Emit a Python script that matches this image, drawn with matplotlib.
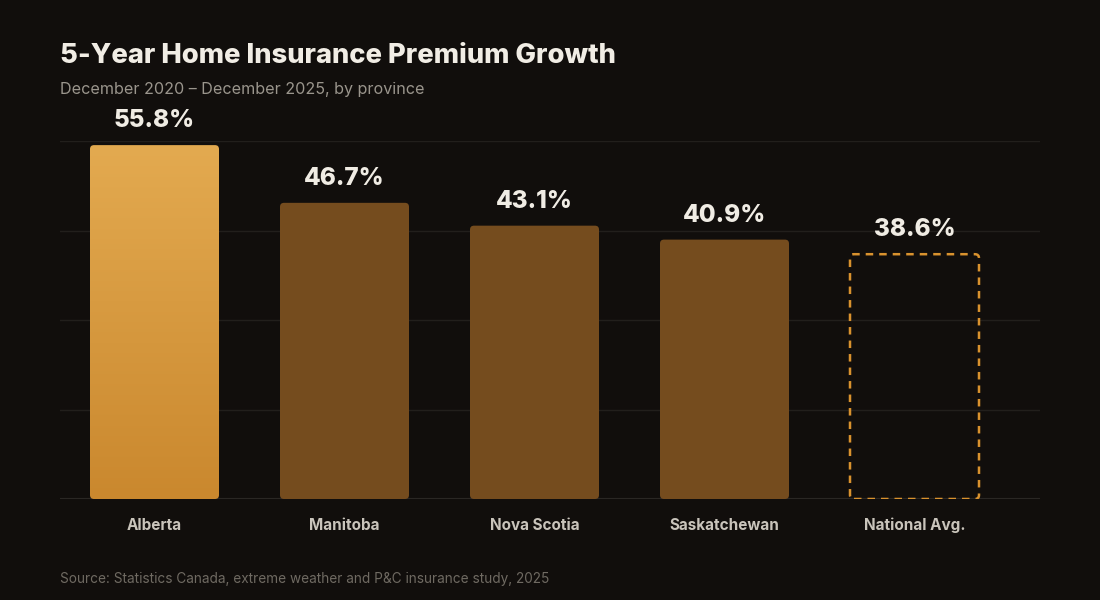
import numpy as np
import matplotlib.pyplot as plt
from matplotlib.patches import FancyBboxPatch

plt.rcParams["font.family"] = ["Inter", "DejaVu Sans"]

categories = ["Alberta", "Manitoba", "Nova Scotia", "Saskatchewan", "National Avg."]
growth_pct = [55.8, 46.7, 43.1, 40.9, 38.6]
value_labels = ["55.8%", "46.7%", "43.1%", "40.9%", "38.6%"]

BG = "#110e0c"
BAR = "#754c1e"
HI_TOP = "#e3aa50"
HI_BOT = "#ca882e"
DASH = "#d9922e"
GRID = "#221f1c"

W, H = 1100, 600
fig = plt.figure(figsize=(11, 6), dpi=100, facecolor=BG)
ax_left, ax_right, ax_top, ax_bottom = 60, 1040, 141, 499
ax = fig.add_axes([ax_left / W, 1 - ax_bottom / H, (ax_right - ax_left) / W, (ax_bottom - ax_top) / H])
ax.set_facecolor(BG)

px_per_x = 190.0
x0 = (ax_left - 154.5) / px_per_x
x1 = (ax_right - 154.5) / px_per_x
ymax = 56.45
ax.set_xlim(x0, x1)
ax.set_ylim(0, ymax)
px_per_y = (ax_bottom - ax_top) / ymax

for g in np.linspace(0, ymax, 5)[1:]:
    ax.axhline(g, color=GRID, lw=1, zorder=0)
ax.axhline(0, color="#2a2724", lw=1.5, zorder=0)

width = 129 / px_per_x
rad = 4 / px_per_x
aspect = px_per_x / px_per_y

for i, (cat, val) in enumerate(zip(categories, growth_pct)):
    left = i - width / 2
    if i == len(categories) - 1:
        # national average: dashed outline only
        p = FancyBboxPatch((left, 0), width, val,
                           boxstyle=f"round,pad=0,rounding_size={rad}",
                           mutation_aspect=aspect, facecolor="none",
                           edgecolor=DASH, lw=1.8, linestyle=(0, (3, 2.4)), zorder=3)
        ax.add_patch(p)
    elif i == 0:
        # highlighted bar with vertical gradient
        p = FancyBboxPatch((left, 0), width, val,
                           boxstyle=f"round,pad=0,rounding_size={rad}",
                           mutation_aspect=aspect, facecolor="none",
                           edgecolor="none", zorder=2)
        ax.add_patch(p)
        top = np.array([int(HI_TOP[k:k + 2], 16) for k in (1, 3, 5)]) / 255
        bot = np.array([int(HI_BOT[k:k + 2], 16) for k in (1, 3, 5)]) / 255
        t = np.linspace(0, 1, 256)[:, None]
        grad = (top * (1 - t) + bot * t)[:, None, :]
        im = ax.imshow(grad, extent=[left, left + width, 0, val], aspect="auto",
                       origin="upper", zorder=2)
        im.set_clip_path(p)
    else:
        p = FancyBboxPatch((left, 0), width, val,
                           boxstyle=f"round,pad=0,rounding_size={rad}",
                           mutation_aspect=aspect, facecolor=BAR,
                           edgecolor="none", zorder=2)
        ax.add_patch(p)

    ax.annotate(value_labels[i], (i, val), xytext=(0, 13), textcoords="offset points",
                ha="center", va="baseline", fontsize=17.5, fontweight="heavy",
                color="#f0ece4")
    ax.annotate(cat, (i, 0), xytext=(0, -22), textcoords="offset points",
                ha="center", va="baseline", fontsize=11, fontweight="bold",
                color="#c9c4bb", annotation_clip=False)

ax.set_xlim(x0, x1)
ax.set_ylim(0, ymax)
for s in ax.spines.values():
    s.set_visible(False)
ax.set_xticks([])
ax.set_yticks([])

fig.text(60 / W, 1 - 63 / H, "5-Year Home Insurance Premium Growth", fontsize=19.7,
         fontweight="heavy", color="#f1ede5", ha="left", va="baseline")
fig.text(60 / W, 1 - 94 / H, "December 2020 \u2013 December 2025, by province", fontsize=11.6,
         color="#9a958c", ha="left", va="baseline")
fig.text(60 / W, 1 - 583 / H, "Source: Statistics Canada, extreme weather and P&C insurance study, 2025",
         fontsize=9.8, color="#6f6a62", ha="left", va="baseline")

fig.savefig("out.png", dpi=100, facecolor=BG)
